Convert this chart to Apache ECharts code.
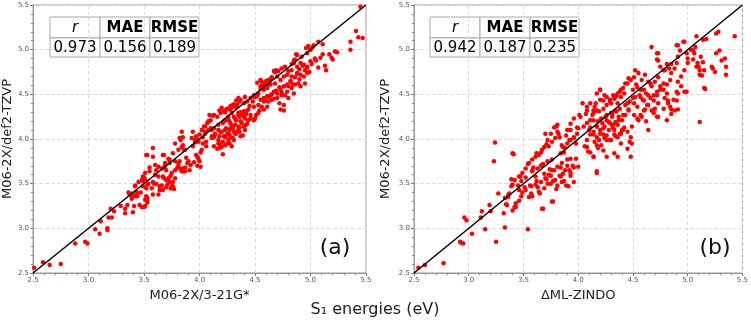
<!DOCTYPE html>
<html>
<head>
<meta charset="utf-8">
<script src="https://cdn.jsdelivr.net/npm/echarts@6/dist/echarts.min.js"></script>
<style>
html,body{margin:0;padding:0;background:#fff}
#chart{width:751px;height:320px}
</style>
</head>
<body>
<div id="chart"></div>
<script>
// (a) M06-2X/3-21G* vs M06-2X/def2-TZVP
var ptsA = [
[2.51,2.56],[2.59,2.62],[2.65,2.59],[2.75,2.60],[2.88,2.83],[2.97,2.85],[2.99,2.83],[3.06,2.99],[3.10,2.94],[3.11,3.08],
[3.17,2.98],[3.17,3.00],[3.18,3.12],[3.21,3.12],[3.20,3.22],[3.23,3.19],[3.29,3.25],[3.33,3.17],[3.33,3.22],[3.35,3.26],
[3.36,3.40],[3.37,3.38],[3.39,3.35],[3.39,3.33],[3.40,3.18],[3.41,3.25],[3.42,3.48],[3.44,3.36],[3.44,3.39],[3.47,3.40],
[3.48,3.24],[3.50,3.24],[3.51,3.25],[3.49,3.53],[3.50,3.57],[3.51,3.55],[3.52,3.45],[3.53,3.49],[3.53,3.31],[3.53,3.34],
[3.53,3.29],[3.55,3.68],[3.58,3.38],[3.59,3.50],[3.60,3.60],[3.61,3.65],[3.63,3.38],[3.64,3.43],[3.66,3.48],[3.67,3.58],
[3.68,3.56],[3.68,3.68],[3.69,3.70],[3.70,3.46],[3.71,3.49],[3.72,3.56],[3.74,3.59],[3.74,3.45],[3.75,3.47],[3.77,3.44],
[3.76,3.52],[3.78,3.56],[3.80,3.68],[3.81,3.72],[3.83,3.66],[3.85,3.64],[3.87,3.68],[3.89,3.73],[3.92,3.71],[3.95,3.74],
[3.98,3.70],[4.01,3.69],
[3.53,3.82],[3.58,3.90],[3.68,3.82],[3.73,3.77],[3.83,3.99],[3.85,4.02],[3.84,3.91],[3.86,3.88],[3.88,3.79],[3.94,3.92],
[3.96,3.96],[3.99,3.99],[3.98,3.80],[4.01,3.85],[4.03,4.02],[4.05,4.06],[4.06,3.97],[4.10,4.12],[4.11,4.10],[4.13,4.02],
[4.16,3.89],[4.18,3.95],[4.20,3.91],[4.21,3.83],[4.23,4.02],[4.25,4.06],[4.28,4.02],[4.12,4.26],[4.09,4.20],[4.18,4.32],
[4.20,4.35],[4.23,4.30],[4.26,4.34],[4.28,4.37],[4.31,4.39],[4.33,4.43],[4.35,4.46],[4.28,4.17],[4.30,4.12],[4.33,4.06],
[4.34,4.08],[4.36,4.13],[4.39,4.04],[4.33,4.21],[4.35,4.27],[4.37,4.30],[4.40,4.25],[4.42,4.28],[4.45,4.37],[4.48,4.42],
[4.50,4.47],[4.53,4.51],[4.55,4.56],[4.43,4.17],[4.46,4.23],[4.49,4.21],[4.51,4.27],[4.54,4.32],[4.56,4.36],[4.52,4.63],
[4.55,4.66],[4.57,4.60],[4.60,4.65],[4.62,4.61],[4.63,4.66],[4.65,4.69],[4.68,4.75],[4.69,4.77],[4.59,4.43],[4.62,4.47],
[4.65,4.50],[4.67,4.45],[4.69,4.54],[4.72,4.58],[4.74,4.52],[4.77,4.49],[4.76,4.32],[4.72,4.40],[4.80,4.59],[4.82,4.65],
[4.84,4.61],[4.86,4.69],[4.88,4.73],[4.90,4.67],[4.83,4.84],[4.85,4.88],[4.87,4.95],[4.90,4.78],[4.93,4.82],[4.95,4.77],
[4.97,4.80],[4.99,4.75],[5.01,4.84],[4.96,5.02],[4.98,5.04],[5.00,5.00],[5.02,5.03],[5.05,4.88],[5.07,4.80],[5.09,4.91],
[5.11,4.95],[5.13,4.82],[5.14,4.77],[5.11,5.06],[5.17,4.95],[5.19,4.91],[5.20,4.89],[5.22,4.98],[5.24,4.97],[5.36,5.09],
[5.36,5.00],[5.41,5.21],[5.43,5.14],[5.47,5.13],[5.45,5.48],
[4.41,4.47],[4.36,4.42],[4.33,4.36],[4.30,4.38],[4.27,4.34],[4.29,4.29],[4.24,4.33],[4.26,4.25],[4.23,4.21],[4.21,4.18],
[4.27,4.20],[4.32,4.23],[4.36,4.25],[4.39,4.27],[4.42,4.31],[4.44,4.21],[4.38,4.18],[4.35,4.14],[4.30,4.14],[4.27,4.10],
[4.24,4.12],[4.20,4.08],[4.17,4.10],[4.14,4.06],[4.11,4.03],[4.18,4.03],[4.23,4.03],[4.27,4.05],[4.32,4.06],[4.36,4.08],
[4.41,4.10],[4.42,4.16],[4.21,3.97],[4.17,3.95],[4.18,3.90],[4.23,3.93],[4.27,3.95],[4.26,3.99],[4.30,4.01],[4.09,4.27],
[4.08,4.20],[4.05,4.14],[4.02,4.10],[4.00,4.05],[3.97,4.03],[3.96,3.99],[3.99,3.97],[4.03,3.95],[4.06,3.92],[4.02,3.88],
[3.97,3.82],[3.99,3.78],[4.00,3.75],[3.94,4.08],[3.93,4.01],[3.84,4.08],[3.82,4.01],[3.78,3.95],[3.85,3.93],[3.87,3.88],
[3.81,3.88],[3.76,3.84],[3.72,3.78],[3.67,3.82],[3.69,3.73],[3.73,3.73],[3.78,3.75],[3.82,3.75],[3.81,3.69],[3.85,3.67],
[3.90,3.75],[3.91,3.65],[3.87,3.64],[3.84,3.64],[3.78,3.65],[3.75,3.62],[3.70,3.65],[3.66,3.67],[3.63,3.69],[3.58,3.80],
[3.52,3.82],[3.60,3.71],[3.55,3.64],[3.51,3.62],[3.49,3.58],[3.48,3.54],[3.45,3.52],[3.42,3.47],[3.39,3.39],[3.43,3.41],
[3.49,3.47],[3.54,3.50],[3.58,3.52],[3.61,3.50],[3.64,3.47],[3.67,3.43],[3.70,3.54],[3.73,3.52],[3.76,3.47],[3.63,3.58],
[3.57,3.45],[3.52,3.36],[3.51,3.32],[3.46,3.26],[3.49,3.24],[3.42,3.36],[3.40,3.37],
[5.07,5.09],[5.03,5.05],[4.98,5.03],[5.00,5.00],[4.97,4.96],[4.92,4.92],[4.88,4.94],[4.86,4.89],[4.91,4.85],[4.94,4.83],
[4.97,4.81],[5.00,4.87],[5.04,4.90],[4.88,4.81],[4.85,4.85],[4.83,4.77],[4.80,4.76],[4.77,4.81],[4.74,4.79],[4.71,4.76],
[4.67,4.76],[4.70,4.70],[4.65,4.68],[4.62,4.66],[4.59,4.62],[4.56,4.64],[4.55,4.59],[4.58,4.55],[4.61,4.57],[4.64,4.61],
[4.68,4.62],[4.73,4.66],[4.76,4.70],[4.79,4.72],[4.83,4.70],[4.88,4.74],[4.91,4.72],[4.94,4.70],[4.97,4.74],[4.82,4.64],
[4.79,4.61],[4.76,4.59],[4.73,4.55],[4.70,4.51],[4.67,4.53],[4.64,4.49],[4.61,4.48],[4.58,4.46],[4.55,4.44],[4.52,4.48],
[4.49,4.49],[4.46,4.46],[4.43,4.42],[4.40,4.40],[4.37,4.44],[4.34,4.38],[4.31,4.36],[4.28,4.33],[4.25,4.34],[4.22,4.31],
[4.19,4.29],[4.16,4.25],[4.13,4.27],[4.10,4.21],[4.07,4.18],[4.04,4.14],[4.05,4.08],[4.08,4.10],[4.13,4.12],[4.17,4.16],
[4.22,4.20],[4.26,4.21],[4.31,4.25],[4.35,4.29],[4.40,4.31],[4.44,4.33],[4.49,4.36],[4.53,4.38],[4.58,4.42],[4.62,4.42],
[4.65,4.44],[4.70,4.46],[4.74,4.49],[4.79,4.53],[4.83,4.57],[4.86,4.61],[4.89,4.62],[4.46,4.27],[4.41,4.23],[4.37,4.20],
[4.32,4.16],[4.28,4.12],[4.23,4.10],[4.19,4.08],[4.14,4.05],[4.11,4.01],[4.17,3.99],[4.22,4.03],[4.26,4.05],[4.31,4.08],
[4.35,4.10],[4.40,4.14],[4.37,4.03],[4.31,3.99],[4.25,3.95],[4.19,3.93],[4.13,3.92],[4.29,3.92],[4.53,4.29],[4.58,4.33],
[4.50,4.23],[4.61,4.36],[4.73,4.33],[4.76,4.38],[4.80,4.46],[4.85,4.51],[4.91,4.59],[4.95,4.62]
];

// (b) ΔML-ZINDO vs M06-2X/def2-TZVP
var ptsB = [
[2.54,2.56],[2.60,2.59],[2.77,2.61],[2.93,2.84],[2.95,2.83],[2.92,2.85],[2.96,3.12],[2.98,3.09],[3.03,2.94],[3.11,3.12],
[3.12,3.19],[3.15,2.99],[3.19,3.26],[3.20,3.19],[3.25,2.85],[3.27,3.39],[3.32,3.17],[3.33,3.01],[3.34,3.27],[3.35,3.26],
[3.36,3.35],[3.37,3.39],[3.39,3.55],[3.40,3.49],[3.40,3.20],[3.42,3.24],[3.43,3.24],[3.45,3.48],[3.46,3.43],[3.46,3.31],
[3.47,3.58],[3.48,3.53],[3.49,3.40],[3.51,3.46],[3.52,3.57],[3.54,3.72],[3.54,2.99],[3.56,3.48],[3.55,3.35],[3.57,3.39],
[3.58,3.65],[3.59,3.68],[3.61,3.58],[3.62,3.53],[3.63,3.46],[3.65,3.39],[3.66,3.70],[3.68,3.72],[3.68,3.22],[3.69,3.61],
[3.71,3.55],[3.72,3.50],[3.74,3.66],[3.75,3.59],[3.77,3.53],[3.78,3.65],[3.77,3.30],[3.80,3.44],[3.81,3.48],[3.83,3.59],
[3.84,3.68],[3.86,3.61],[3.87,3.53],[3.89,3.48],[3.90,3.70],[3.92,3.65],[3.93,3.59],[3.95,3.70],[3.96,3.68],[4.00,3.69],
[4.17,3.62],[3.23,3.75],
[3.24,3.96],[3.41,3.83],[3.62,3.84],[3.66,3.85],[3.71,3.94],[3.80,4.14],[3.81,4.08],[3.83,4.02],[3.86,3.91],[3.87,3.85],
[3.92,3.99],[3.93,4.10],[3.96,4.02],[3.98,3.95],[3.99,4.13],[4.02,4.25],[4.07,4.28],[4.08,4.36],[4.11,4.40],[4.14,4.32],
[4.17,4.51],[4.23,4.43],[4.26,4.47],[4.30,4.40],[4.33,4.45],[4.36,4.51],[4.39,4.55],[4.11,4.13],[4.14,4.08],[4.17,4.02],
[4.20,4.06],[4.23,4.12],[4.26,4.04],[4.29,3.99],[4.33,4.10],[4.36,4.02],[4.39,4.06],[4.42,4.13],[4.45,4.08],[4.48,4.02],
[4.49,3.95],[4.31,4.28],[4.45,4.40],[4.52,4.47],[4.60,4.55],[4.66,4.62],[4.73,4.69],[4.79,4.77],[4.85,4.84],[4.91,4.92],
[4.67,5.03],[4.72,4.96],[4.73,4.88],[4.75,4.81],[4.78,4.77],[4.81,4.84],[4.83,4.79],[4.90,5.05],[4.93,4.99],[4.96,5.09],
[4.99,4.96],[5.00,4.90],[5.05,4.99],[5.07,5.03],[5.10,4.81],[5.11,4.77],[5.13,4.71],[5.14,4.86],[5.17,5.12],[5.22,4.81],
[5.23,4.79],[5.25,4.75],[5.26,5.18],[5.28,5.20],[5.26,4.96],[5.29,4.99],[5.31,4.88],[5.34,4.90],[5.35,4.81],[5.35,4.72],
[5.43,5.15],[5.16,4.56],[5.11,4.19],[4.99,4.53],[4.88,4.32],[4.90,4.43],[4.91,4.51],[4.81,4.51],[4.82,4.43],[4.84,4.36],
[4.85,4.28],[4.78,4.62],[4.75,4.55],[4.72,4.49],[4.69,4.43],[4.72,4.25],[4.67,4.32],[4.63,4.38],[4.60,4.32],[4.57,4.27],
[4.54,4.23],[4.51,4.27],[4.57,4.47],[4.60,4.43],[4.64,4.49],[4.54,4.36],[4.51,4.40],[4.46,4.32],[4.43,4.27],[4.40,4.21],
[4.37,4.25],[4.34,4.19],[4.31,4.15],[4.28,4.19],[4.25,4.25],[4.45,4.62],[4.48,4.66],[4.51,4.69],[4.54,4.58],[4.57,4.55],
[4.20,4.55],[4.17,4.32],[4.14,4.21],[4.08,4.32],[4.04,4.40],[4.01,4.27],[3.96,4.23],[3.93,4.17],[3.90,4.10],[3.89,4.04],
[3.78,4.13],[3.75,4.06],[3.72,3.99],[3.69,3.91],[4.08,3.91],[4.11,3.85],[4.14,3.80],[4.17,3.93],[4.23,3.87],[4.26,3.80],
[4.33,3.84],[4.39,3.95],[4.45,3.89],[4.48,3.80],[4.36,3.80],
[4.20,4.55],[4.24,4.49],[4.29,4.44],[4.33,4.46],[4.36,4.40],[4.39,4.47],[4.42,4.51],[4.35,4.31],[4.30,4.29],[4.26,4.27],
[4.21,4.23],[4.18,4.20],[4.15,4.36],[4.14,4.29],[4.17,4.14],[4.20,4.10],[4.24,4.14],[4.29,4.18],[4.32,4.12],[4.36,4.16],
[4.41,4.10],[4.38,4.06],[4.33,4.05],[4.30,3.99],[4.24,4.01],[4.21,3.93],[4.18,3.90],[4.15,3.97],[4.11,4.05],[4.08,3.99],
[4.06,3.92],[4.09,3.86],[4.14,3.80],[4.17,3.64],[4.00,4.12],[3.99,4.06],[3.96,4.01],[3.93,3.99],[3.90,3.95],[3.88,3.90],
[3.85,3.93],[3.84,3.84],[3.81,4.16],[3.82,4.06],[3.79,4.01],[3.76,3.97],[3.73,3.92],[3.70,4.06],[3.67,3.88],[3.64,3.82],
[3.61,3.80],[3.58,3.77],[3.55,3.73],[3.52,3.67],[3.49,3.62],[3.46,3.58],[3.42,3.54],[3.40,3.84],[3.39,3.47],[3.36,3.37],
[3.33,3.34],[3.42,3.24],[3.43,3.28],[3.48,3.36],[3.52,3.43],[3.57,3.47],[3.61,3.49],[3.66,3.52],[3.70,3.56],[3.73,3.60],
[3.76,3.65],[3.81,3.69],[3.85,3.73],[3.90,3.77],[3.93,3.78],[3.98,3.78],[3.88,3.65],[3.93,3.62],[3.84,3.58],[3.79,3.54],
[3.75,3.50],[3.69,3.45],[3.64,3.41],[3.58,3.36],[3.67,3.22],[3.76,3.30],[3.91,3.47],[3.96,3.52],[3.85,3.52],[3.58,3.64],
[3.63,3.67],[3.67,3.71],[3.72,3.75],[3.76,3.77],
[5.08,5.15],[5.14,5.11],[4.91,5.05],[4.97,5.09],[4.73,4.96],[4.72,4.89],[5.03,5.00],[5.06,4.96],[5.05,4.89],[5.09,4.85],
[5.12,4.92],[5.08,4.81],[5.11,4.72],[5.15,4.77],[5.00,4.85],[4.97,4.77],[4.94,4.70],[4.90,4.85],[4.88,4.79],[4.85,4.74],
[4.84,4.66],[4.81,4.61],[4.78,4.55],[4.75,4.59],[4.72,4.53],[4.69,4.49],[4.66,4.46],[4.91,4.64],[4.94,4.59],[4.97,4.53],
[4.90,4.53],[4.87,4.44],[4.85,4.33],[4.91,4.33],[5.15,4.57],[4.79,4.46],[4.82,4.40],[4.78,4.34],[4.73,4.40],[4.70,4.34],
[4.69,4.29],[4.64,4.38],[4.61,4.33],[4.59,4.44],[4.56,4.49],[4.62,4.51],[4.67,4.59],[4.70,4.64],[4.64,4.64],[4.61,4.72],
[4.58,4.66],[4.53,4.61],[4.50,4.55],[4.55,4.74],[4.52,4.77],[4.46,4.68],[4.43,4.62],[4.41,4.57],[4.38,4.53],[4.35,4.48],
[4.32,4.49],[4.29,4.42],[4.26,4.38],[4.23,4.34],[4.19,4.31],[4.20,4.44],[4.16,4.40],[4.13,4.27],[4.11,4.21],[4.08,4.18],
[4.05,4.14],[4.10,4.10],[4.14,4.05],[4.17,4.14],[4.22,4.18],[4.26,4.21],[4.31,4.25],[4.34,4.31],[4.38,4.34],[4.43,4.38],
[4.47,4.42],[4.50,4.46],[4.46,4.33],[4.41,4.27],[4.37,4.21],[4.32,4.16],[4.28,4.10],[4.23,4.05],[4.19,3.99],[4.40,4.10],
[4.49,4.14],[4.55,4.21],[4.58,4.25],[4.62,4.20],[4.73,4.25],[4.81,4.21],[4.34,4.03],[4.26,3.99],[4.47,3.97],[4.64,4.10]
];

var diag = [[2.5, 2.5], [5.5, 5.5]];
var axisMin = 2.5, axisMax = 5.5, axisStep = 0.5;

var statHead = ['r', 'MAE', 'RMSE'];
var statA = ['0.973', '0.156', '0.189'];
var statB = ['0.942', '0.187', '0.235'];

var FONT = 'DejaVu Sans';

function xAxis(idx, name) {
    return {
        type: 'value', gridIndex: idx, min: axisMin, max: axisMax, interval: axisStep,
        name: name, nameLocation: 'middle', nameGap: 13,
        nameTextStyle: {fontFamily: FONT, fontSize: 13, color: '#222'},
        axisLine: {onZero: false, lineStyle: {color: '#999', width: 1}},
        axisTick: {length: 3, lineStyle: {color: '#777'}},
        minorTick: {show: true, splitNumber: 5, length: 2, lineStyle: {color: '#888'}},
        axisLabel: {fontFamily: FONT, fontSize: 7, color: '#555', margin: 4,
            formatter: function (v) { return v.toFixed(1); }},
        splitLine: {show: true, lineStyle: {type: 'dashed', color: '#ddd'}}
    };
}

function yAxis(idx, gap) {
    return {
        type: 'value', gridIndex: idx, min: axisMin, max: axisMax, interval: axisStep,
        name: 'M06-2X/def2-TZVP', nameLocation: 'middle', nameGap: gap,
        nameTextStyle: {fontFamily: FONT, fontSize: 13, color: '#222'},
        axisLine: {onZero: false, lineStyle: {color: '#999', width: 1}},
        axisTick: {length: 3, lineStyle: {color: '#777'}},
        minorTick: {show: true, splitNumber: 5, length: 2, lineStyle: {color: '#888'}},
        axisLabel: {fontFamily: FONT, fontSize: 7, color: '#555', margin: 4,
            formatter: function (v) { return v.toFixed(1); }},
        splitLine: {show: true, lineStyle: {type: 'dashed', color: '#ddd'}}
    };
}

// stats table drawn as graphic cells
function table(x0, vals) {
    var els = [];
    var w = [50, 50, 49];
    var x = x0;
    for (var i = 0; i < 3; i++) {
        els.push({type: 'rect', shape: {x: x, y: 17, width: w[i], height: 21},
            style: {fill: '#fff', stroke: '#aaa', lineWidth: 1}});
        els.push({type: 'rect', shape: {x: x, y: 38, width: w[i], height: 19},
            style: {fill: '#fff', stroke: '#aaa', lineWidth: 1}});
        els.push({type: 'text', x: x + w[i] / 2, y: 28, z: 10,
            style: {text: statHead[i], fontFamily: FONT, fontSize: 15, fill: '#000',
                fontWeight: i === 0 ? 'normal' : 'bold', fontStyle: i === 0 ? 'italic' : 'normal',
                align: 'center', verticalAlign: 'middle'}});
        els.push({type: 'text', x: x + w[i] / 2, y: 48, z: 10,
            style: {text: vals[i], fontFamily: FONT, fontSize: 15, fill: '#000',
                align: 'center', verticalAlign: 'middle'}});
        x += w[i];
    }
    return els;
}

var chart = echarts.init(document.getElementById('chart'));
var option = {
    backgroundColor: '#fff',
    animation: false,
    grid: [
        {left: 33, top: 5, width: 333, height: 268, show: true, borderColor: '#999', borderWidth: 1},
        {left: 414, top: 5, width: 331, height: 268, show: true, borderColor: '#999', borderWidth: 1}
    ],
    xAxis: [xAxis(0, 'M06-2X/3-21G*'), xAxis(1, 'ΔML-ZINDO')],
    yAxis: [yAxis(0, 18), yAxis(1, 22)],
    series: [
        {type: 'scatter', xAxisIndex: 0, yAxisIndex: 0, data: ptsA, symbolSize: 4.5,
            itemStyle: {color: '#ff0000', opacity: 1}},
        {type: 'line', xAxisIndex: 0, yAxisIndex: 0, data: diag, showSymbol: false, symbol: 'none', z: 5,
            lineStyle: {color: '#000', width: 1.5}},
        {type: 'scatter', xAxisIndex: 1, yAxisIndex: 1, data: ptsB, symbolSize: 4.5,
            itemStyle: {color: '#ff0000', opacity: 1}},
        {type: 'line', xAxisIndex: 1, yAxisIndex: 1, data: diag, showSymbol: false, symbol: 'none', z: 5,
            lineStyle: {color: '#000', width: 1.5}}
    ],
    graphic: [].concat(
        table(50, statA),
        table(430, statB),
        [
            {type: 'text', x: 335, y: 248, style: {text: '(a)', fontFamily: FONT, fontSize: 22, fill: '#111',
                align: 'center', verticalAlign: 'middle'}},
            {type: 'text', x: 715, y: 248, style: {text: '(b)', fontFamily: FONT, fontSize: 22, fill: '#111',
                align: 'center', verticalAlign: 'middle'}},
            {type: 'text', x: 375, y: 310, style: {text: 'S₁ energies (eV)', fontFamily: FONT, fontSize: 16,
                fill: '#222', align: 'center', verticalAlign: 'middle'}}
        ]
    )
};
chart.setOption(option);
</script>
</body>
</html>
